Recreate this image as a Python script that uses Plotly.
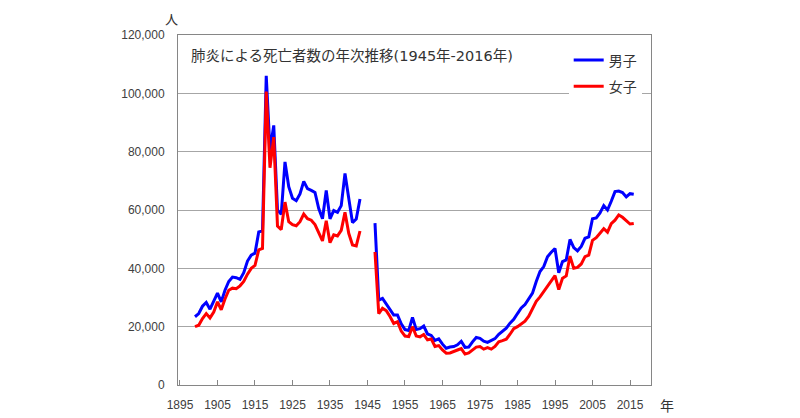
import plotly.graph_objects as go

# ---- data ----
years_prewar = list(range(1899, 1944))
men_prewar = [23400, 24500, 27000, 28300, 26000, 28500, 31500, 28500, 32500, 35500,
              37000, 36800, 36200, 38500, 42500, 44500, 45200, 52500, 52800, 106000,
              80500, 89000, 60000, 58500, 76500, 68000, 64000, 63200, 65500, 69800,
              67300, 66700, 66000, 60500, 57000, 66700, 57000, 59800, 59200, 61500,
              72500, 64000, 55700, 56900, 63800]
women_prewar = [20000, 20500, 22800, 24500, 23000, 25000, 28500, 25800, 29500, 32500,
                33200, 33000, 34000, 35500, 38000, 40000, 41000, 46300, 46800, 100600,
                74500, 85000, 54500, 53300, 62700, 56000, 55000, 54600, 56000, 58600,
                57000, 56500, 55000, 52000, 49400, 56300, 48800, 51500, 51100, 53000,
                59200, 52000, 48000, 47700, 52800]

years_gap = [1944, 1945, 1946]

years_postwar = list(range(1947, 2017))
men_postwar = [55500, 29100, 29700, 27800, 26300, 24000, 24000, 21000, 19000, 18700,
               23200, 19000, 19300, 20200, 17500, 17000, 15300, 15800, 14000, 12600,
               13000, 13200, 13800, 15000, 12900, 13000, 14800, 16300, 16000, 15000,
               14600, 15300, 15900, 17400, 18500, 19500, 21200, 22500, 24500, 26400,
               27600, 29500, 31500, 35500, 38900, 40600, 44000, 45500, 46800, 38500,
               42300, 42900, 49900, 47100, 46000, 47500, 50300, 50800, 57000, 57300,
               59000, 61500, 60000, 63000, 66300, 66500, 66000, 64500, 65600, 65400]
women_postwar = [45600, 24500, 26300, 25500, 23500, 21100, 21700, 18500, 16800, 16600,
                 20000, 16800, 16500, 17300, 15500, 15800, 13200, 13500, 12000, 10900,
                 11000, 11400, 12000, 12500, 10600, 11000, 12000, 13000, 13200, 12300,
                 12800, 12300, 13200, 14800, 15200, 15700, 17400, 19300, 20000, 21000,
                 21900, 23600, 26400, 28700, 30200, 32100, 34000, 36000, 37500, 32700,
                 36600, 37400, 44200, 40000, 40300, 41500, 44000, 44500, 49600, 50500,
                 51900, 53600, 52400, 55300, 56500, 58300, 57500, 56500, 55200, 55400]

series_names = ["男子", "女子"]
tick_years = list(range(1895, 2016, 10))
y_ticks = [0, 20000, 40000, 60000, 80000, 100000, 120000]
title_text = "肺炎による死亡者数の年次推移(1945年-2016年)"

# build full series with a gap for 1944-1946
years = years_prewar + years_gap + years_postwar
men = men_prewar + [None] * len(years_gap) + men_postwar
women = women_prewar + [None] * len(years_gap) + women_postwar

fig = go.Figure()
fig.add_trace(go.Scatter(x=years, y=men, mode="lines", name=series_names[0],
                         line=dict(color="#0000FF", width=3), connectgaps=False,
                         legendgroup="m"))
fig.add_trace(go.Scatter(x=years, y=women, mode="lines", name=series_names[1],
                         line=dict(color="#FF0000", width=3), connectgaps=False,
                         legendgroup="f"))

fig.update_layout(
    width=800, height=418,
    margin=dict(l=170, r=157, t=27, b=41),
    paper_bgcolor="white", plot_bgcolor="white",
    font=dict(family="Liberation Sans, Arial, sans-serif", color="#404040", size=12),
    showlegend=True,
    legend=dict(x=0.826, xanchor="left", y=0.973, yanchor="top",
                bgcolor="white", borderwidth=0,
                font=dict(family="Noto Sans CJK JP", size=14, color="#333333"),
                itemwidth=30, traceorder="grouped", tracegroupgap=5),
)

fig.update_xaxes(range=[1894.47, 2020.6], tickvals=tick_years,
                 ticks="inside", ticklen=5, tickcolor="#868686",
                 showline=True, linecolor="#868686", linewidth=1, mirror=True,
                 showgrid=False, zeroline=False, ticklabelstandoff=9,
                 automargin=False,
                 tickfont=dict(size=12, color="#404040"))
fig.update_yaxes(range=[0, 120000], tickvals=y_ticks, tickformat=",",
                 ticks="outside", ticklen=10, tickcolor="rgba(0,0,0,0)",
                 showline=True, linecolor="#868686", linewidth=1, mirror=True,
                 showgrid=True, gridcolor="#a6a6a6", gridwidth=1, zeroline=False,
                 automargin=False,
                 tickfont=dict(size=12, color="#404040"))

fig.add_annotation(text=title_text, xref="paper", yref="paper", x=0.024, y=0.94,
                   xanchor="left", yanchor="middle", showarrow=False,
                   font=dict(family="DejaVu Sans, Noto Sans CJK JP", size=14.5,
                             color="#333333"))
fig.add_annotation(text="人", xref="paper", yref="paper", x=-0.013, y=1.048,
                   xanchor="center", yanchor="middle", showarrow=False,
                   font=dict(family="Noto Sans CJK JP", size=13, color="#333333"))
fig.add_annotation(text="年", xref="paper", yref="paper", x=1.034, y=-0.057,
                   xanchor="center", yanchor="middle", showarrow=False,
                   font=dict(family="Noto Sans CJK JP", size=14, color="#333333"))

fig.write_html("out.html")
